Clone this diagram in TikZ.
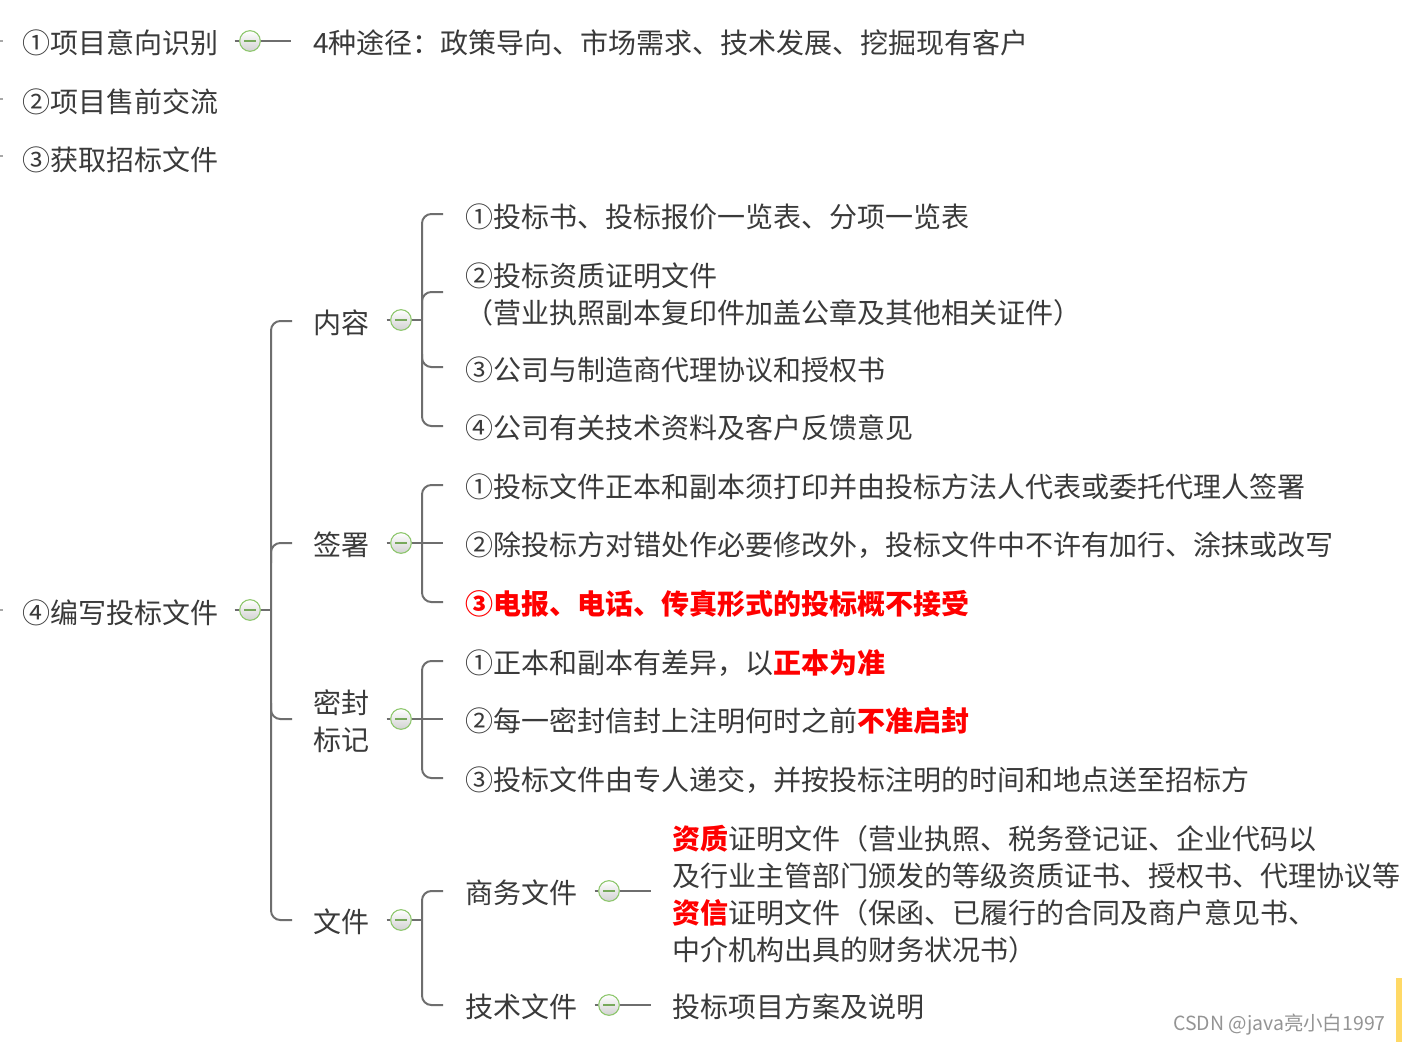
\documentclass[tikz,border=0pt]{standalone}
\usepackage{fontspec}
\setmainfont{Noto Sans CJK SC}
\usetikzlibrary{calc}
\definecolor{txt}{HTML}{3A3A3A}
\definecolor{ln}{HTML}{6E6E6E}
\definecolor{grn}{HTML}{8CC66B}
\definecolor{hl}{HTML}{FF0000}
\definecolor{barcol}{HTML}{FFD966}
\newcommand{\hlb}[1]{\textbf{\textcolor{hl}{#1}}}
\begin{document}
\begin{tikzpicture}[x=0.75pt,y=-0.75pt,
  txtnode/.style={anchor=west, inner sep=0pt, text=txt, font=\fontsize{21}{27.75}\selectfont, align=left},
  tog/.style={circle, draw=grn, line width=0.8pt, top color=white, bottom color=black!18, minimum size=15.5pt, inner sep=0pt},
  conn/.style={draw=ln, line width=1.5pt},
  brk/.style={conn, rounded corners=7pt},
  minusline/.style={draw=grn!85!black, line width=0.8pt},
  tick/.style={draw=ln!60, line width=1pt}
]
\fill[white] (0,0) rectangle (1402,1045);
\useasboundingbox (0,0) rectangle (1402,1045);

% top level
\node[txtnode] (t1) at (22,43) {①项目意向识别};
\node[txtnode] (t2) at (22,102) {②项目售前交流};
\node[txtnode] (t3) at (22,160) {③获取招标文件};
\node[txtnode] (t4) at (22,613) {④编写投标文件};

\coordinate (r1) at (0,41); \coordinate (r1e) at (2.5,41);
\coordinate (r2) at (0,99); \coordinate (r2e) at (2.5,99);
\coordinate (r3) at (0,156); \coordinate (r3e) at (2.5,156);
\coordinate (r4) at (0,610); \coordinate (r4e) at (2.5,610);
\draw[tick] (r1) -- (r1e);
\draw[tick] (r2) -- (r2e);
\draw[tick] (r3) -- (r3e);
\draw[tick] (r4) -- (r4e);

% item 1
\node[tog] (c1) at (250,41) {};
\node[txtnode] (t1a) at (313,43) {4种途径：政策导向、市场需求、技术发展、挖掘现有客户};
\draw[conn] ($(t1.east |- c1)+(16,0)$) -- (c1.west);
\draw[conn] (c1.east) -- ($(c1 -| t1a.west)+(-22,0)$);

% item 4
\node[tog] (c4) at (250,610) {};
\draw[conn] ($(t4.east |- c4)+(16,0)$) -- (c4.west);
\coordinate (s4) at (271,610);
\draw[conn] (c4.east) -- (s4);

\node[txtnode] (n1) at (313,323) {内容};
\node[txtnode] (n2) at (313,545) {签署};
\node[txtnode] (n3) at (313,721) {密封\\标记};
\node[txtnode] (n4) at (313,922) {文件};

\draw[brk] ($(n1.west)+(-21,-2)$) -| (s4) |- ($(n4.west)+(-21,-2)$);
\draw[brk] ($(s4 |- n2.west)+(0,18)$) |- ($(n2.west)+(-21,-2)$);
\draw[brk] ($(s4 |- n3.west)+(0,-18)$) |- ($(n3.west)+(-21,-2)$);

% 内容
\node[tog] (d1) at (401,320) {};
\draw[conn] ($(n1.east |- d1)+(17,0)$) -- (d1.west);
\coordinate (s1) at (422,320);
\draw[conn] (d1.east) -- (s1);
\node[txtnode] (k11) at (465,217) {①投标书、投标报价一览表、分项一览表};
\node[txtnode] (k12) at (465,294) {②投标资质证明文件\\（营业执照副本复印件加盖公章及其他相关证件）};
\node[txtnode] (k13) at (465,370) {③公司与制造商代理协议和授权书};
\node[txtnode] (k14) at (465,428) {④公司有关技术资料及客户反馈意见};
\draw[brk] ($(k11.west)+(-22,-3)$) -| (s1) |- ($(k14.west)+(-22,-2)$);
\draw[brk] ($(s1 |- k12.west)+(0,16)$) |- ($(k12.west)+(-22,-2)$);
\draw[brk] ($(s1 |- k13.west)+(0,-16)$) |- ($(k13.west)+(-22,-3)$);

% 签署
\node[tog] (d2) at (401,543) {};
\draw[conn] ($(n2.east |- d2)+(17,0)$) -- (d2.west);
\coordinate (s2) at (422,543);
\draw[conn] (d2.east) -- (s2);
\node[txtnode] (k21) at (465,487) {①投标文件正本和副本须打印并由投标方法人代表或委托代理人签署};
\node[txtnode] (k22) at (465,545) {②除投标方对错处作必要修改外，投标文件中不许有加行、涂抹或改写};
\node[txtnode] (k23) at (465,604) {\hlb{③电报、电话、传真形式的投标概不接受}};
\draw[brk] ($(k21.west)+(-22,-2)$) -| (s2) |- ($(k23.west)+(-22,-2)$);
\draw[conn] (s2) -- ($(s2 -| k22.west)+(-22,0)$);

% 密封标记
\node[tog] (d3) at (401,719) {};
\draw[conn] ($(n3.east |- d3)+(17,0)$) -- (d3.west);
\coordinate (s3) at (422,719);
\draw[conn] (d3.east) -- (s3);
\node[txtnode] (k31) at (465,663) {①正本和副本有差异，以\hlb{正本为准}};
\node[txtnode] (k32) at (465,721) {②每一密封信封上注明何时之前\hlb{不准启封}};
\node[txtnode] (k33) at (465,780) {③投标文件由专人递交，并按投标注明的时间和地点送至招标方};
\draw[brk] ($(k31.west)+(-22,-2)$) -| (s3) |- ($(k33.west)+(-22,-2)$);
\draw[conn] (s3) -- ($(s3 -| k32.west)+(-22,0)$);

% 文件
\node[tog] (d4) at (401,920) {};
\draw[conn] ($(n4.east |- d4)+(17,0)$) -- (d4.west);
\coordinate (s5) at (422,920);
\draw[conn] (d4.east) -- (s5);
\node[txtnode] (m1) at (465,893) {商务文件};
\node[txtnode] (m2) at (465,1007) {技术文件};
\draw[brk] ($(m1.west)+(-22,-2)$) -| (s5) |- ($(m2.west)+(-22,-2)$);

\node[tog] (e1) at (609,891) {};
\draw[conn] ($(m1.east |- e1)+(17,0)$) -- (e1.west);
\node[txtnode] (f1) at (672,894) {\hlb{资质}证明文件（营业执照、税务登记证、企业代码以\\及行业主管部门颁发的等级资质证书、授权书、代理协议等\\\hlb{资信}证明文件（保函、已履行的合同及商户意见书、\\中介机构出具的财务状况书）};
\draw[conn] (e1.east) -- ($(e1 -| f1.west)+(-21,0)$);

\node[tog] (e2) at (609,1005) {};
\draw[conn] ($(m2.east |- e2)+(17,0)$) -- (e2.west);
\node[txtnode] (f2) at (672,1007) {投标项目方案及说明};
\draw[conn] (e2.east) -- ($(e2 -| f2.west)+(-21,0)$);

\foreach \c in {c1,c4,d1,d2,d3,d4,e1,e2}
  \draw[minusline] ($(\c.center)+(-6,0)$) -- ($(\c.center)+(6,0)$);

% watermark and bar
\node[anchor=west, inner sep=0pt, text=black!42, font=\fontsize{14.6}{17}\selectfont] (wm) at (1173,1025) {CSDN @java亮小白1997};
\fill[fill=barcol] (1396,978) rectangle (1402,1042);
\end{tikzpicture}
\end{document}
